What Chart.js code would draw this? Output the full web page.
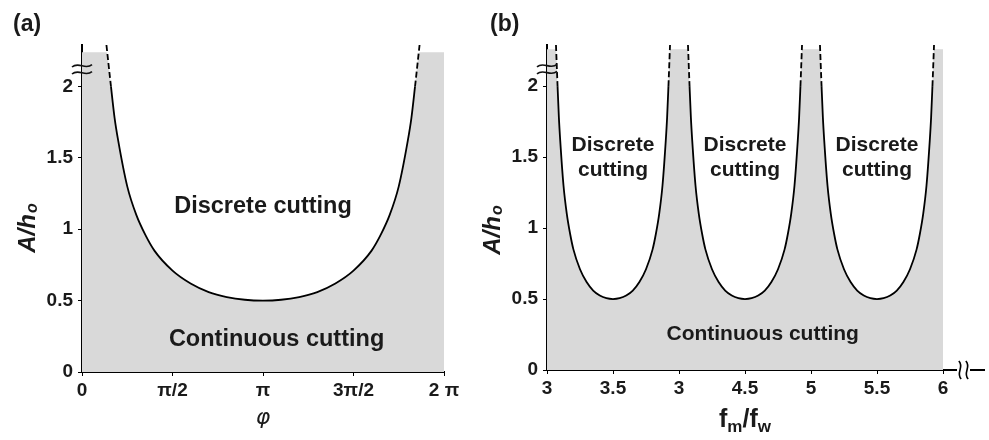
<!DOCTYPE html>
<html>
<head>
<meta charset="utf-8">
<script src="https://cdn.jsdelivr.net/npm/chart.js@4.4.1/dist/chart.umd.min.js"></script>
<style>
  html, body { margin: 0; padding: 0; background: #fff; }
  #wrap { position: relative; width: 989px; height: 440px; }
  canvas { position: absolute; left: 0; top: 0; }
</style>
</head>
<body>
<div id="wrap">
  <canvas id="chartA" width="989" height="440"></canvas>
  <canvas id="chartB" width="989" height="440"></canvas>
</div>
<script>
// ---- panel (a): phase (in units of pi) vs A/h_o ----
const phiA = [0.135, 0.16, 0.18, 0.2, 0.25, 0.3, 0.35, 0.4, 0.5, 0.6, 0.7, 0.8, 0.9, 1.0,
              1.1, 1.2, 1.3, 1.4, 1.5, 1.6, 1.65, 1.7, 1.75, 1.8, 1.82, 1.84, 1.865];
const ratioA = [2.29, 2.0, 1.78, 1.62, 1.30, 1.10, 0.96, 0.85, 0.71, 0.62, 0.56, 0.525, 0.506, 0.5,
                0.506, 0.525, 0.56, 0.62, 0.71, 0.85, 0.96, 1.10, 1.30, 1.62, 1.78, 2.0, 2.29];
const phiTicks = [0, 0.5, 1, 1.5, 2];
const phiTickLabels = ['0', 'π/2', 'π', '3π/2', '2 π'];

// ---- panel (b): fm/fw vs A/h_o, three lobes ----
const freqB1 = [3.068, 3.08, 3.09, 3.1, 3.125, 3.15, 3.175, 3.2, 3.25, 3.3, 3.35, 3.4, 3.45, 3.5,
                3.55, 3.6, 3.65, 3.7, 3.75, 3.8, 3.825, 3.85, 3.875, 3.9, 3.91, 3.92, 3.932];
const freqB2 = [4.068, 4.08, 4.09, 4.1, 4.125, 4.15, 4.175, 4.2, 4.25, 4.3, 4.35, 4.4, 4.45, 4.5,
                4.55, 4.6, 4.65, 4.7, 4.75, 4.8, 4.825, 4.85, 4.875, 4.9, 4.91, 4.92, 4.932];
const freqB3 = [5.068, 5.08, 5.09, 5.1, 5.125, 5.15, 5.175, 5.2, 5.25, 5.3, 5.35, 5.4, 5.45, 5.5,
                5.55, 5.6, 5.65, 5.7, 5.75, 5.8, 5.825, 5.85, 5.875, 5.9, 5.91, 5.92, 5.932];
const ratioB = [2.29, 2.0, 1.78, 1.62, 1.30, 1.10, 0.96, 0.85, 0.71, 0.62, 0.56, 0.525, 0.506, 0.5,
                0.506, 0.525, 0.56, 0.62, 0.71, 0.85, 0.96, 1.10, 1.30, 1.62, 1.78, 2.0, 2.29];
const freqTicks = [3, 3.5, 4, 4.5, 5, 5.5, 6];
const freqTickLabels = ['3', '3.5', '3', '4.5', '5', '5.5', '6'];

const yTicks = [0, 0.5, 1, 1.5, 2];
const Y_MAX = 2.29;
const GRAY = '#d9d9d9';
const FONT = '"Liberation Sans", Arial, sans-serif';

const pts = (xs, ys) => xs.map((x, i) => ({ x: x, y: ys[i] }));

function curveSet(data) {
  return {
    data: data, borderColor: '#000', borderWidth: 1.8, pointRadius: 0, fill: false,
    cubicInterpolationMode: 'monotone', order: 0,
    segment: { borderDash: c => (c.p0.parsed.y >= 1.999 && c.p1.parsed.y >= 1.999) ? [6, 3] : undefined }
  };
}
function fillSet(data) {
  return {
    data: data, borderWidth: 0, borderColor: 'rgba(0,0,0,0)', backgroundColor: GRAY,
    pointRadius: 0, fill: 'origin', cubicInterpolationMode: 'monotone', order: 5
  };
}

function tilde(ctx, cx, cy, w, a, vertical) {
  ctx.beginPath();
  if (!vertical) {
    ctx.moveTo(cx - w / 2, cy + a * 0.4);
    ctx.bezierCurveTo(cx - w / 6, cy - a * 1.6, cx + w / 6, cy + a * 1.6, cx + w / 2, cy - a * 0.4);
  } else {
    ctx.moveTo(cx - a * 0.4, cy - w / 2);
    ctx.bezierCurveTo(cx + a * 1.6, cy - w / 6, cx - a * 1.6, cy + w / 6, cx + a * 0.4, cy + w / 2);
  }
  ctx.stroke();
}

const deco = {
  id: 'deco',
  afterDraw(chart, args, o) {
    const ctx = chart.ctx, xs = chart.scales.x, ys = chart.scales.y, area = chart.chartArea;
    ctx.save();
    ctx.fillStyle = '#1a1a1a';
    ctx.strokeStyle = '#111';
    // panel letter
    ctx.font = 'bold 23px ' + FONT;
    ctx.textAlign = 'left';
    ctx.textBaseline = 'alphabetic';
    ctx.fillText(o.panel, o.panelX, 31);
    // region notes
    ctx.textAlign = 'center';
    ctx.textBaseline = 'middle';
    o.notes.forEach(n => {
      ctx.font = 'bold ' + n.size + 'px ' + FONT;
      ctx.fillText(n.text, xs.getPixelForValue(n.x), ys.getPixelForValue(n.y));
    });
    // y title A/h_o
    ctx.save();
    ctx.translate(area.left - 47, o.yTitleY);
    ctx.rotate(-Math.PI / 2);
    ctx.textAlign = 'left';
    ctx.textBaseline = 'alphabetic';
    const mainF = 'italic bold 24px ' + FONT, subF = 'italic bold 16px ' + FONT;
    ctx.font = mainF; const w1 = ctx.measureText('A/h').width;
    ctx.font = subF; const w2 = ctx.measureText('o').width;
    const x0 = -(w1 + w2 + 1) / 2;
    ctx.font = mainF; ctx.fillText('A/h', x0, 0);
    ctx.font = subF; ctx.fillText('o', x0 + w1 + 1, 2);
    ctx.restore();
    // x title
    ctx.textAlign = 'left';
    ctx.textBaseline = 'alphabetic';
    if (o.xTitle === 'phi') {
      ctx.font = 'oblique 22px "DejaVu Sans", sans-serif';
      const w = ctx.measureText('φ').width;
      ctx.fillText('φ', o.xTitleX - w / 2, 424);
    } else {
      const parts = [['f', 0], ['m', 1], ['/', 0], ['f', 0], ['w', 1]];
      const big = 'bold 25px ' + FONT, small = 'bold 17px ' + FONT;
      let total = 0;
      parts.forEach(p => { ctx.font = p[1] ? small : big; total += ctx.measureText(p[0]).width; });
      let x = o.xTitleX - total / 2;
      parts.forEach(p => {
        ctx.font = p[1] ? small : big;
        ctx.fillText(p[0], x, p[1] ? 432 : 427);
        x += ctx.measureText(p[0]).width;
      });
    }
    // y-axis break marks
    ctx.lineWidth = 1.6;
    const by = ys.getPixelForValue(2.12);
    tilde(ctx, area.left, by - 3.5, 20, 3, false);
    tilde(ctx, area.left, by + 3.5, 20, 3, false);
    // x-axis extension with break (panel b)
    if (o.xBreak) {
      const ay = area.bottom;
      ctx.lineWidth = 2;
      ctx.strokeStyle = '#000';
      ctx.beginPath();
      ctx.moveTo(area.right, ay); ctx.lineTo(area.right + 14, ay);
      ctx.moveTo(area.right + 27, ay); ctx.lineTo(area.right + 42, ay);
      ctx.stroke();
      ctx.lineWidth = 1.6;
      tilde(ctx, area.right + 17, ay, 18, 3, true);
      tilde(ctx, area.right + 24, ay, 18, 3, true);
    }
    ctx.restore();
  }
};

function axes(xMin, xMax, xTicks, xLabels, yWidth, xHeight) {
  const tickFont = { family: FONT, weight: 'bold', size: 19 };
  return {
    x: {
      type: 'linear', min: xMin, max: xMax,
      border: { display: true, color: '#000', width: 2 },
      grid: { display: true, drawOnChartArea: false, drawTicks: true, tickLength: 4, color: '#000' },
      ticks: { color: '#1a1a1a', font: tickFont, padding: 3, maxRotation: 0, autoSkip: false,
               callback: (v, i) => xLabels[i] },
      afterBuildTicks: s => { s.ticks = xTicks.map(v => ({ value: v })); },
      afterFit: s => { s.height = xHeight; }
    },
    y: {
      type: 'linear', min: 0, max: Y_MAX,
      border: { display: true, color: '#000', width: 2 },
      grid: { display: true, drawOnChartArea: false, drawTicks: true, tickLength: 4, color: '#000' },
      ticks: { color: '#1a1a1a', font: tickFont, padding: 5, callback: v => String(v) },
      afterBuildTicks: s => { s.ticks = yTicks.map(v => ({ value: v })); },
      afterFit: s => { s.width = yWidth; }
    }
  };
}

const common = { responsive: false, animation: false, events: [] };

// panel (a)
const curveA = pts(phiA, ratioA);
const topA = 2.24;
new Chart(document.getElementById('chartA'), {
  type: 'line',
  data: {
    datasets: [
      curveSet(curveA),
      fillSet([{ x: 0, y: topA }].concat(curveA.map(p => ({ x: p.x, y: Math.min(p.y, topA) })), [{ x: 2, y: topA }]))
    ]
  },
  options: Object.assign({}, common, {
    layout: { padding: { left: 0, right: 545, top: 45, bottom: 0 } },
    scales: axes(0, 2, phiTicks, phiTickLabels, 82, 68),
    plugins: {
      legend: { display: false }, tooltip: { enabled: false },
      deco: {
        panel: '(a)', panelX: 13, yTitleY: 228, xTitle: 'phi', xTitleX: 263, xBreak: false,
        notes: [
          { text: 'Discrete cutting', x: 1.0, y: 1.16, size: 23.5 },
          { text: 'Continuous cutting', x: 1.075, y: 0.227, size: 23.5 }
        ]
      }
    }
  }),
  plugins: [deco]
});

// panel (b)
const lobes = [pts(freqB1, ratioB), pts(freqB2, ratioB), pts(freqB3, ratioB)];
const topB = 2.26;
let fillB = [{ x: 3, y: topB }];
lobes.forEach(l => { fillB = fillB.concat(l.map(p => ({ x: p.x, y: Math.min(p.y, topB) }))); });
fillB.push({ x: 6, y: topB });
new Chart(document.getElementById('chartB'), {
  type: 'line',
  data: { datasets: lobes.map(curveSet).concat([fillSet(fillB)]) },
  options: Object.assign({}, common, {
    layout: { padding: { left: 490, right: 46, top: 45, bottom: 0 } },
    scales: axes(3, 6, freqTicks, freqTickLabels, 57, 70),
    plugins: {
      legend: { display: false }, tooltip: { enabled: false },
      deco: {
        panel: '(b)', panelX: 490, yTitleY: 230, xTitle: 'f', xTitleX: 745, xBreak: true,
        notes: [
          { text: 'Discrete', x: 3.5, y: 1.585, size: 21 }, { text: 'cutting', x: 3.5, y: 1.41, size: 21 },
          { text: 'Discrete', x: 4.5, y: 1.585, size: 21 }, { text: 'cutting', x: 4.5, y: 1.41, size: 21 },
          { text: 'Discrete', x: 5.5, y: 1.585, size: 21 }, { text: 'cutting', x: 5.5, y: 1.41, size: 21 },
          { text: 'Continuous cutting', x: 4.634, y: 0.25, size: 21 }
        ]
      }
    }
  }),
  plugins: [deco]
});
</script>
</body>
</html>
